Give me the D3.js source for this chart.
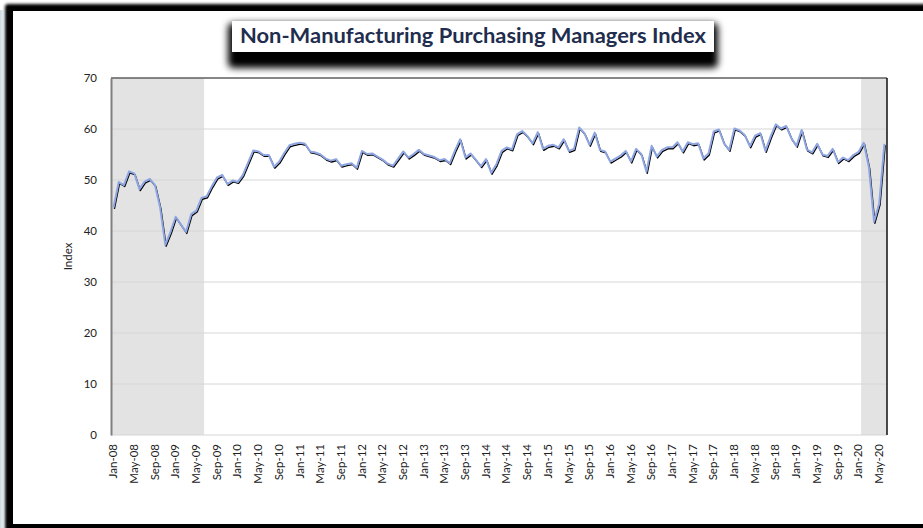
<!DOCTYPE html>
<html>
<head>
<meta charset="utf-8">
<script src="https://cdn.jsdelivr.net/npm/d3@7"></script>
<style>
  html, body { margin: 0; padding: 0; background: #fff; }
  svg { display: block; }
  text { font-family: Lato, "Open Sans", sans-serif; }
</style>
</head>
<body>
<svg id="chart" width="923" height="528"></svg>
<script>
// ISM Non-Manufacturing index, monthly, Jan 2008 – Jun 2020
const firstMonth = new Date(2008, 0, 1);
const lastMonth = new Date(2020, 5, 1);

const values2008 = [44.6, 49.6, 49.0, 51.7, 51.3, 48.2, 49.7, 50.2, 49.0, 44.6, 37.3, 39.8];
const values2009 = [42.8, 41.3, 39.8, 43.3, 44.0, 46.5, 46.8, 48.8, 50.5, 51.0, 49.2, 49.9];
const values2010 = [49.6, 51.0, 53.4, 55.8, 55.6, 54.9, 54.9, 52.6, 53.6, 55.3, 56.8, 57.1];
const values2011 = [57.3, 57.1, 55.6, 55.4, 55.0, 54.2, 53.8, 54.1, 52.8, 53.1, 53.3, 52.4];
const values2012 = [55.7, 55.1, 55.2, 54.6, 54.0, 53.2, 52.8, 54.2, 55.6, 54.4, 55.1, 55.9];
const values2013 = [55.1, 54.8, 54.5, 53.9, 54.1, 53.3, 55.8, 58.0, 54.4, 55.2, 54.0, 52.7];
const values2014 = [54.1, 51.4, 53.1, 55.7, 56.4, 56.0, 59.0, 59.6, 58.6, 57.2, 59.4, 56.1];
const values2015 = [56.7, 56.9, 56.4, 58.0, 55.7, 56.1, 60.3, 59.2, 56.9, 59.3, 55.9, 55.6];
const values2016 = [53.6, 54.2, 54.8, 55.7, 53.6, 56.1, 55.1, 51.6, 56.7, 54.6, 55.9, 56.4];
const values2017 = [56.4, 57.4, 55.6, 57.4, 57.0, 57.2, 54.2, 55.2, 59.5, 59.9, 57.2, 55.9];
const values2018 = [60.1, 59.7, 58.8, 56.6, 58.7, 59.2, 55.7, 58.5, 60.9, 60.1, 60.6, 58.2];
const values2019 = [56.7, 59.8, 56.0, 55.4, 57.1, 55.0, 54.7, 56.1, 53.5, 54.4, 53.9, 54.9];
const values2020 = [55.5, 57.3, 52.5, 41.8, 45.4, 57.1];

// Recession periods shaded behind the line (first and last month label)
const recessionStarts = ["Jan-08", "Feb-20"];
const recessionEnds   = ["Jun-09", "Jun-20"];

const tickLabels = [
  "Jan-08","May-08","Sep-08","Jan-09","May-09","Sep-09","Jan-10","May-10","Sep-10",
  "Jan-11","May-11","Sep-11","Jan-12","May-12","Sep-12","Jan-13","May-13","Sep-13",
  "Jan-14","May-14","Sep-14","Jan-15","May-15","Sep-15","Jan-16","May-16","Sep-16",
  "Jan-17","May-17","Sep-17","Jan-18","May-18","Sep-18","Jan-19","May-19","Sep-19",
  "Jan-20","May-20"
];
const yTicks = [0, 10, 20, 30, 40, 50, 60, 70];

const titleText = "Non-Manufacturing Purchasing Managers Index";
const yTitle = "Index";

// ---- assemble series ----
const fmt = d3.timeFormat("%b-%y");
const categories = d3.timeMonth.range(firstMonth, d3.timeMonth.offset(lastMonth, 1)).map(fmt);
const values = [].concat(values2008, values2009, values2010, values2011, values2012,
  values2013, values2014, values2015, values2016, values2017, values2018, values2019, values2020);
const series = categories.map((c, i) => ({ cat: c, v: values[i] }));

const W = 923, H = 528;
const plot = { left: 111, right: 887, top: 78, bottom: 435 };

const svg = d3.select("#chart");
const defs = svg.append("defs");
defs.append("filter").attr("id", "soft").attr("x", "-20%").attr("y", "-20%")
  .attr("width", "140%").attr("height", "140%")
  .append("feGaussianBlur").attr("stdDeviation", 1.8);
defs.append("filter").attr("id", "titleShadow").attr("x", "-20%").attr("y", "-60%")
  .attr("width", "140%").attr("height", "220%")
  .append("feGaussianBlur").attr("stdDeviation", 3.5);
const lg = defs.append("linearGradient").attr("id", "leftEdge")
  .attr("x1", 0).attr("x2", 1).attr("y1", 0).attr("y2", 0);
lg.append("stop").attr("offset", 0).attr("stop-color", "#c9d9e3");
lg.append("stop").attr("offset", 1).attr("stop-color", "#c9d9e3").attr("stop-opacity", 0);

// ---- outer frame ----
svg.append("rect").attr("width", W).attr("height", H).attr("fill", "#fff");
svg.append("rect").attr("x", 5).attr("y", 4).attr("width", 1200).attr("height", 800)
  .attr("rx", 3).attr("fill", "#000").attr("filter", "url(#soft)");
svg.append("rect").attr("x", 0).attr("y", 10).attr("width", 5).attr("height", H)
  .attr("fill", "url(#leftEdge)");
svg.append("rect").attr("x", 13).attr("y", 11).attr("width", W).attr("height", 513)
  .attr("fill", "#fff");

// ---- scales ----
const x = d3.scaleBand().domain(categories).range([plot.left, plot.right]).padding(0);
const y = d3.scaleLinear().domain([0, 70]).range([plot.bottom, plot.top]);
const cx = c => x(c) + x.bandwidth() / 2;

// recession shading
svg.append("g").selectAll("rect")
  .data(recessionStarts.map((s, i) => ({ s, e: recessionEnds[i] })))
  .join("rect")
  .attr("x", d => x(d.s))
  .attr("width", d => x(d.e) + x.bandwidth() - x(d.s))
  .attr("y", plot.top).attr("height", plot.bottom - plot.top)
  .attr("fill", "#e3e3e3");

// gridlines
svg.append("g").selectAll("line").data(yTicks).join("line")
  .attr("x1", plot.left).attr("x2", plot.right)
  .attr("y1", d => y(d)).attr("y2", d => y(d))
  .attr("stroke", "#d6d6d6").attr("stroke-width", 1);

// plot area edges
svg.append("line").attr("x1", plot.left).attr("x2", plot.right)
  .attr("y1", plot.top).attr("y2", plot.top).attr("stroke", "#222").attr("stroke-width", 1);
svg.append("line").attr("x1", plot.right).attr("x2", plot.right)
  .attr("y1", plot.top).attr("y2", plot.bottom).attr("stroke", "#111").attr("stroke-width", 1.5);

// y axis
const yAxis = svg.append("g").attr("transform", `translate(${plot.left},0)`)
  .call(d3.axisLeft(y).tickValues(yTicks).tickSize(0).tickPadding(14).tickFormat(d3.format("d")));
yAxis.select(".domain").attr("stroke", "#808080").attr("stroke-width", 2);
yAxis.selectAll("text").attr("font-size", 11.5).attr("fill", "#222");

// x axis
const xAxis = svg.append("g").attr("transform", `translate(0,${plot.bottom})`)
  .call(d3.axisBottom(x).tickValues(tickLabels).tickSize(0).tickPadding(0));
xAxis.select(".domain").remove();
xAxis.selectAll("text")
  .attr("font-size", 11.5).attr("fill", "#222")
  .attr("transform", "rotate(-90)")
  .attr("text-anchor", "end")
  .attr("x", -9).attr("y", 0).attr("dy", "0.32em");

// y title
svg.append("text")
  .attr("transform", `translate(${72},${(plot.top + plot.bottom) / 2}) rotate(-90)`)
  .attr("text-anchor", "middle").attr("font-size", 11.5).attr("fill", "#222")
  .text(yTitle);

// line with dark drop shadow
const line = d3.line().x(d => cx(d.cat)).y(d => y(d.v));
svg.append("path").datum(series).attr("d", line)
  .attr("transform", "translate(0.8,1.4)")
  .attr("fill", "none").attr("stroke", "#000").attr("stroke-width", 1.4)
  .attr("stroke-linejoin", "round");
svg.append("path").datum(series).attr("d", line)
  .attr("fill", "none").attr("stroke", "#8ea5e2").attr("stroke-width", 2)
  .attr("stroke-linejoin", "round");

// title box
const tb = { x: 232, y: 21, w: 482, h: 31 };
svg.append("rect").attr("x", tb.x - 4).attr("y", tb.y + 2).attr("width", tb.w + 8).attr("height", tb.h + 14)
  .attr("rx", 5).attr("fill", "#000").attr("filter", "url(#titleShadow)");
svg.append("rect").attr("x", tb.x).attr("y", tb.y).attr("width", tb.w).attr("height", tb.h)
  .attr("fill", "#fff");
svg.append("text").attr("x", tb.x + tb.w / 2).attr("y", tb.y + 22)
  .attr("text-anchor", "middle").attr("font-size", 20).attr("font-weight", 700)
  .attr("textLength", 466).attr("lengthAdjust", "spacingAndGlyphs")
  .attr("fill", "#1f2d4e").text(titleText);
</script>
</body>
</html>
